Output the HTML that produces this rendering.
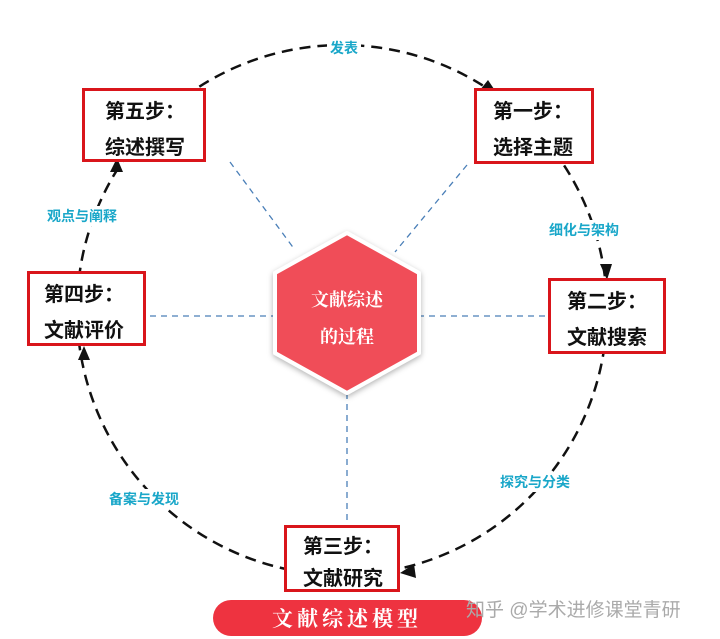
<!DOCTYPE html>
<html><head><meta charset="utf-8"><style>
body{margin:0;width:720px;height:639px;background:#fff;overflow:hidden;position:relative;font-family:"Liberation Sans","Noto Sans CJK SC",sans-serif}
.box{position:absolute;background:#fff;border:3px solid #d9151b;box-sizing:border-box;font-weight:bold;font-size:20px;color:#111;line-height:36px;padding:3px 0 0 16px}
.lbl{position:absolute;color:#1aa7c9;font-size:14px;font-weight:bold;background:#fff;padding:0 3px}
</style></head><body>
<svg width="720" height="639" style="position:absolute;left:0;top:0">
<defs><filter id="sh" x="-20%" y="-20%" width="140%" height="140%"><feDropShadow dx="0" dy="2" stdDeviation="3" flood-color="#000" flood-opacity="0.3"/></filter></defs>
<circle cx="342" cy="310" r="265" fill="none" stroke="#111" stroke-width="2.5" stroke-dasharray="11 7"/>
<g stroke="#4a7fb8" stroke-width="1.3" stroke-dasharray="6 5" fill="none">
<line x1="230" y1="162" x2="295" y2="250"/>
<line x1="467" y1="165" x2="395" y2="252"/>
<line x1="150" y1="316" x2="276" y2="316"/>
<line x1="418" y1="316" x2="548" y2="316"/>
<line x1="347" y1="393" x2="347" y2="525"/>
</g>
<polygon points="347,233 419,273 419,353 347,393 275,353 275,273" fill="#f04e58" stroke="#fff" stroke-width="4" stroke-linejoin="round" filter="url(#sh)"/>
<text x="347" y="306" text-anchor="middle" fill="#fff" font-size="18" font-weight="bold" font-family="Liberation Serif,Noto Serif CJK SC,serif">文献综述</text>
<text x="347" y="343" text-anchor="middle" fill="#fff" font-size="18" font-weight="bold" font-family="Liberation Serif,Noto Serif CJK SC,serif">的过程</text>
<g fill="#111">
<polygon points="496,92 480,90 488,80"/>
<polygon points="607,280 600,264 612,264"/>
<polygon points="400,573 414,564 416,578"/>
<polygon points="84,346 78,360 90,360"/>
<polygon points="117,158 110,172 123,172"/>
</g>
<rect x="213" y="600" width="269" height="36" rx="18" fill="#ee3340"/>
<text x="347" y="626" text-anchor="middle" fill="#fff" font-size="21" font-weight="bold" letter-spacing="4" font-family="Liberation Serif,Noto Serif CJK SC,serif">文献综述模型</text>
<text x="466" y="616" fill="#aaa" font-size="19" font-family="Liberation Sans,Noto Sans CJK SC,sans-serif">知乎 @学术进修课堂青研</text>
</svg>
<div class="lbl" style="left:327px;top:38px">发表</div>
<div class="lbl" style="left:546px;top:220px">细化与架构</div>
<div class="lbl" style="left:497px;top:472px">探究与分类</div>
<div class="lbl" style="left:106px;top:489px">备案与发现</div>
<div class="lbl" style="left:44px;top:206px">观点与阐释</div>
<div class="box" style="left:82px;top:88px;width:124px;height:74px;padding-left:20px">第五步：<br>综述撰写</div>
<div class="box" style="left:474px;top:88px;width:120px;height:76px">第一步：<br>选择主题</div>
<div class="box" style="left:548px;top:278px;width:118px;height:76px">第二步：<br>文献搜索</div>
<div class="box" style="left:27px;top:271px;width:119px;height:75px;padding-left:14px">第四步：<br>文献评价</div>
<div class="box" style="left:284px;top:525px;width:116px;height:67px;line-height:32px">第三步：<br>文献研究</div>
</body></html>
